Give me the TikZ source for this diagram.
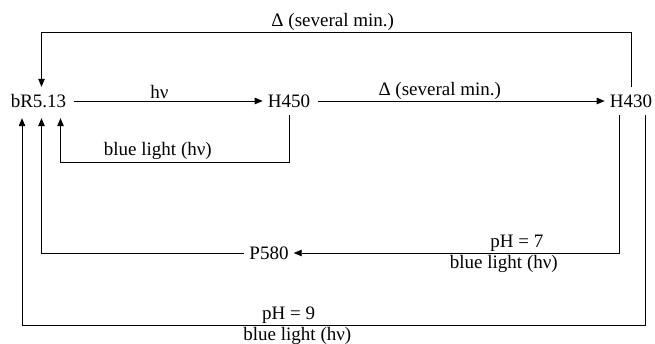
\documentclass[tikz,border=0pt]{standalone}
\usepackage{fontspec}
\setmainfont{Liberation Serif}
\usetikzlibrary{arrows.meta,positioning,calc}

\begin{document}
\begin{tikzpicture}[
    x=1pt, y=1pt,
    >=Stealth,
    state/.style={
      font=\fontsize{19}{22}\selectfont,
      text height=13pt, text depth=0pt,
      inner xsep=5pt, inner ysep=1pt, minimum height=28pt,
    },
    arr/.style={-{Triangle[length=8pt,width=6.5pt]}, line width=0.8pt},
    lbl/.style={font=\fontsize{19}{22}\selectfont, inner sep=1.5pt},
  ]
  \useasboundingbox (0,0) rectangle (655,344);

  % =================== STATES ===================
  \node[state] (br)   at (38.5,243) {bR5.13};
  \node[state] (h450) at (289,243) {H450};
  \node[state] (h430) at (631,243) {H430};
  \node[state] (p580) at (269,91)  {P580};

  % levels of the loops
  \coordinate (top)    at (0,312);
  \coordinate (inner)  at (0,182);
  \coordinate (bottom) at (0,19);

  % =================== FORWARD ===================
  \draw[arr, shorten <=3pt] (br) -- (h450)
    node[pos=0.46, above, lbl] {hν};
  \draw[arr, shorten <=3pt] (h450) -- (h430)
    node[pos=0.43, above, lbl] {Δ (several min.)};

  % =================== BACK TO bR5.13 ===================
  % H430 -> bR5.13 over the top
  \draw[arr] (h430.north) -- (h430.north |- top) -| ([xshift=3pt]br.north)
    node[pos=0.253, above, lbl] {Δ (several min.)};
  % H450 -> bR5.13
  \draw[arr, shorten >=3pt] (h450.south) -- (h450.south |- inner) -| ([xshift=22pt]br.south)
    node[pos=0.287, above, lbl] {blue light (hν)};
  % H430 -> P580 -> bR5.13
  \draw[arr] ([xshift=-12pt]h430.south) |- (p580.east)
    node[pos=0.657, above, lbl] {pH = 7}
    node[pos=0.677, below, lbl] {blue light (hν)};
  \draw[arr, shorten >=3pt] (p580.west) -| ([xshift=3pt]br.south);
  % H430 -> bR5.13 under the bottom
  \draw[arr, shorten >=3pt] ([xshift=14pt]h430.south) -- ([xshift=14pt]h430.south |- bottom) -| ([xshift=-16.5pt]br.south)
    node[pos=0.286, above, lbl] {pH = 9}
    node[pos=0.279, below, lbl] {blue light (hν)};

\end{tikzpicture}
\end{document}
